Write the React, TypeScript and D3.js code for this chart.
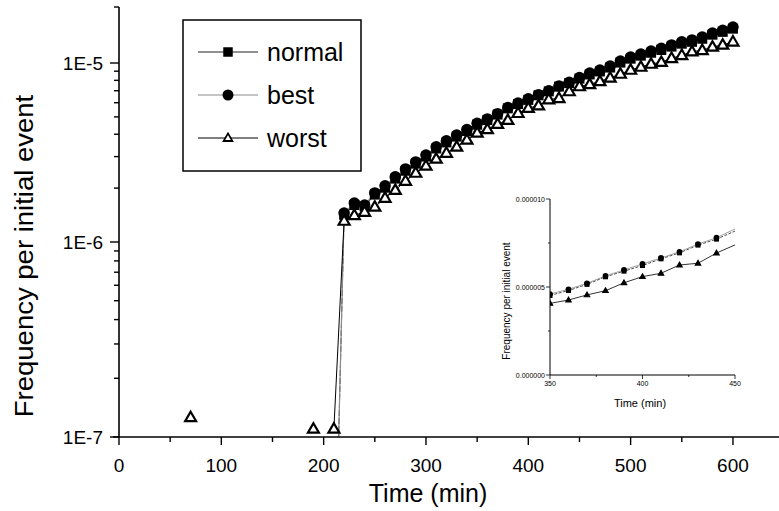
import React from 'react';
import * as d3 from 'd3';

// time (min) of the regular samples after the jump
const time = [
  220, 230, 240, 250, 260, 270, 280, 290, 300, 310, 320, 330, 340, 350, 360, 370, 380, 390, 400, 410,
  420, 430, 440, 450, 460, 470, 480, 490, 500, 510, 520, 530, 540, 550, 560, 570, 580, 590, 600,
];
const normal = [
  1.42e-6, 1.61e-6, 1.58e-6, 1.84e-6, 2.01e-6, 2.26e-6, 2.5e-6, 2.74e-6, 3.0e-6, 3.33e-6, 3.6e-6,
  3.88e-6, 4.17e-6, 4.52e-6, 4.8e-6, 5.15e-6, 5.58e-6, 5.9e-6, 6.22e-6, 6.6e-6, 6.94e-6, 7.38e-6,
  7.72e-6, 8.18e-6, 8.63e-6, 8.97e-6, 9.43e-6, 1.005e-5, 1.055e-5, 1.095e-5, 1.135e-5, 1.175e-5,
  1.225e-5, 1.27e-5, 1.3e-5, 1.35e-5, 1.42e-5, 1.47e-5, 1.53e-5,
];
const best = [
  1.45e-6, 1.65e-6, 1.61e-6, 1.88e-6, 2.06e-6, 2.31e-6, 2.56e-6, 2.8e-6, 3.06e-6, 3.4e-6, 3.67e-6,
  3.96e-6, 4.25e-6, 4.6e-6, 4.87e-6, 5.21e-6, 5.63e-6, 5.97e-6, 6.31e-6, 6.65e-6, 7.0e-6, 7.44e-6,
  7.8e-6, 8.3e-6, 8.79e-6, 9.14e-6, 9.62e-6, 1.025e-5, 1.077e-5, 1.118e-5, 1.16e-5, 1.2e-5, 1.25e-5,
  1.3e-5, 1.33e-5, 1.38e-5, 1.45e-5, 1.5e-5, 1.56e-5,
];
const worst = [
  1.31e-6, 1.41e-6, 1.47e-6, 1.57e-6, 1.76e-6, 1.95e-6, 2.19e-6, 2.43e-6, 2.66e-6, 2.91e-6, 3.14e-6,
  3.4e-6, 3.72e-6, 4.07e-6, 4.26e-6, 4.55e-6, 4.79e-6, 5.24e-6, 5.59e-6, 5.78e-6, 6.25e-6, 6.35e-6,
  6.93e-6, 7.39e-6, 7.6e-6, 7.9e-6, 8.25e-6, 8.68e-6, 9.14e-6, 9.5e-6, 9.87e-6, 1.01e-5, 1.06e-5,
  1.1e-5, 1.15e-5, 1.17e-5, 1.22e-5, 1.25e-5, 1.3e-5,
];
// isolated early points of "worst" (not joined by a line)
const worstEarlyTime = [70, 190];
const worstEarly = [1.26e-7, 1.1e-7];
// last point before the jump
const jumpTime = 210;
const normalJump = 1e-8;
const bestJump = 1e-8;
const worstJump = 1.1e-7;

const xTicks = [0, 100, 200, 300, 400, 500, 600];
const yMajor = [1e-7, 1e-6, 1e-5];
const insetXTicks = [350, 400, 450];
const insetYTicks = [0, 5e-6, 1e-5];
const seriesNames = ['normal', 'best', 'worst'];

const FONT = '"Liberation Sans", Arial, sans-serif';

type P = { t: number; v: number };

const Marker = ({ kind, x, y, s = 1, fill = '#000' }: { kind: string; x: number; y: number; s?: number; fill?: string }) => {
  if (kind === 'normal') return <rect x={x - 5 * s} y={y - 5 * s} width={10 * s} height={10 * s} fill="#000" />;
  if (kind === 'best') return <circle cx={x} cy={y} r={5.8 * s} fill="#000" />;
  const h = 5 * s;
  return (
    <path
      d={`M${x},${y - h * 1.15} L${x + h * 1.1},${y + h * 0.75} L${x - h * 1.1},${y + h * 0.75} Z`}
      fill={fill}
      stroke="#000"
      strokeWidth={2.2 * s}
      strokeLinejoin="miter"
    />
  );
};

const lineStyle: Record<string, { stroke: string; dash?: string; w: number }> = {
  normal: { stroke: '#222', dash: '6 2', w: 1 },
  best: { stroke: '#8a8a8a', w: 1.2 },
  worst: { stroke: '#000', w: 1 },
};

export default function App() {
  const x = d3.scaleLinear().domain([0, 645]).range([119, 779]);
  // slightly uneven decades, as in the scanned original
  const y = d3.scaleLog().domain([1e-7, 1e-6, 1e-5, 2e-5]).range([437, 242, 63, 7]);

  const pts = (vals: number[]): P[] => time.map((t, i) => ({ t, v: vals[i] }));
  const data: Record<string, P[]> = {
    normal: [{ t: jumpTime, v: normalJump }, ...pts(normal)],
    best: [{ t: jumpTime, v: bestJump }, ...pts(best)],
    worst: [{ t: jumpTime, v: worstJump }, ...pts(worst)],
  };
  const early: P[] = worstEarlyTime.map((t, i) => ({ t, v: worstEarly[i] }));

  const line = d3
    .line<P>()
    .x((d) => x(d.t))
    .y((d) => y(d.v));

  const yTicks = y.ticks();

  // inset
  const ix = d3.scaleLinear().domain([350, 450]).range([550, 735]);
  const iy = d3.scaleLinear().domain([0, 1e-5]).range([375, 199]);
  const iline = d3
    .line<P>()
    .x((d) => ix(d.t))
    .y((d) => iy(d.v));
  const insetData = (k: string) => data[k].filter((d) => d.t >= 350 && d.t <= 450);
  const fmt = d3.format('.6f');

  const legendY = [52, 95, 138];

  return (
    <svg width={779} height={511} style={{ position: 'absolute', left: 0, top: 0, background: '#fff' }} fontFamily={FONT}>
      <defs>
        <clipPath id="plot">
          <rect x={119} y={0} width={660} height={437} />
        </clipPath>
        <clipPath id="inset">
          <rect x={550} y={190} width={185} height={185} />
        </clipPath>
      </defs>

      {/* main series */}
      <g clipPath="url(#plot)">
        {seriesNames.map((k) => (
          <path
            key={k}
            d={line(data[k]) || ''}
            fill="none"
            stroke={lineStyle[k].stroke}
            strokeWidth={lineStyle[k].w}
            strokeDasharray={lineStyle[k].dash}
          />
        ))}
        {seriesNames.map((k) => (
          <g key={k}>
            {data[k].map((d, i) => (
              <Marker key={i} kind={k} x={x(d.t)} y={y(d.v)} fill="#fff" />
            ))}
          </g>
        ))}
        {early.map((d, i) => (
          <Marker key={i} kind="worst" x={x(d.t)} y={y(d.v)} fill="#fff" />
        ))}
      </g>

      {/* x axis */}
      <line x1={113} x2={779} y1={437} y2={437} stroke="#000" strokeWidth={1.6} />
      {d3.range(0, 650, 50).map((t) => (
        <line key={t} x1={x(t)} x2={x(t)} y1={437} y2={t % 100 === 0 ? 445 : 442} stroke="#000" strokeWidth={1.4} />
      ))}
      {xTicks.map((t) => (
        <text key={t} x={x(t)} y={472} fontSize={19} textAnchor="middle">
          {t}
        </text>
      ))}
      <text x={428} y={502} fontSize={25} textAnchor="middle">
        Time (min)
      </text>

      {/* y axis */}
      <line x1={119} x2={119} y1={7} y2={437} stroke="#000" strokeWidth={1.6} />
      {yTicks.map((v, i) => {
        const major = yMajor.includes(v);
        return <line key={i} x1={119} x2={major ? 110 : 114} y1={y(v)} y2={y(v)} stroke="#000" strokeWidth={1.4} />;
      })}
      {yMajor.map((v) => (
        <text key={v} x={103} y={y(v) + 7} fontSize={19} textAnchor="end">
          {`1E${Math.round(Math.log10(v))}`}
        </text>
      ))}
      <text transform="translate(33,256) rotate(-90) scale(1.1,1)" fontSize={25} textAnchor="middle">
        {'Frequency per initial event'}
      </text>

      {/* legend */}
      <rect x={183} y={20} width={178} height={151} fill="#fff" stroke="#000" strokeWidth={1.5} />
      {seriesNames.map((k, i) => (
        <g key={k}>
          <line x1={198} x2={258} y1={legendY[i]} y2={legendY[i]} stroke={lineStyle[k].stroke} strokeWidth={1.2} />
          <Marker kind={k} x={228} y={legendY[i]} s={k === 'worst' ? 0.8 : 0.95} fill="#fff" />
          <text x={267} y={legendY[i] + 9} fontSize={25}>
            {k}
          </text>
        </g>
      ))}

      {/* inset */}
      <g clipPath="url(#inset)">
        {seriesNames.map((k) => (
          <path
            key={k}
            d={iline(insetData(k)) || ''}
            fill="none"
            stroke={lineStyle[k].stroke}
            strokeWidth={0.8}
            strokeDasharray={k === 'normal' ? '3 1.5' : undefined}
          />
        ))}
        {seriesNames.map((k) => (
          <g key={k}>
            {insetData(k)
              .filter((d) => d.t < 450)
              .map((d, i) => (
                <Marker key={i} kind={k} x={ix(d.t)} y={iy(d.v)} s={0.5} fill="#000" />
              ))}
          </g>
        ))}
      </g>
      <line x1={550} x2={550} y1={199} y2={375} stroke="#000" strokeWidth={1} />
      <line x1={550} x2={735} y1={375} y2={375} stroke="#000" strokeWidth={1} />
      {d3.range(0, 1.01e-5, 2.5e-6).map((v, i) => (
        <line key={i} x1={550} x2={i % 2 === 0 ? 546 : 548} y1={iy(v)} y2={iy(v)} stroke="#000" strokeWidth={0.8} />
      ))}
      {insetYTicks.map((v) => (
        <text key={v} x={545} y={iy(v) + 2.5} fontSize={7} textAnchor="end">
          {fmt(v)}
        </text>
      ))}
      {d3.range(350, 451, 25).map((t) => (
        <line key={t} x1={ix(t)} x2={ix(t)} y1={375} y2={t % 50 === 0 ? 379 : 377} stroke="#000" strokeWidth={0.8} />
      ))}
      {insetXTicks.map((t) => (
        <text key={t} x={ix(t)} y={386} fontSize={7} textAnchor="middle">
          {t}
        </text>
      ))}
      <text x={640} y={407} fontSize={11} textAnchor="middle">
        Time (min)
      </text>
      <text transform="translate(510,301) rotate(-90)" fontSize={10} textAnchor="middle">
        Frequency per initial event
      </text>
    </svg>
  );
}
